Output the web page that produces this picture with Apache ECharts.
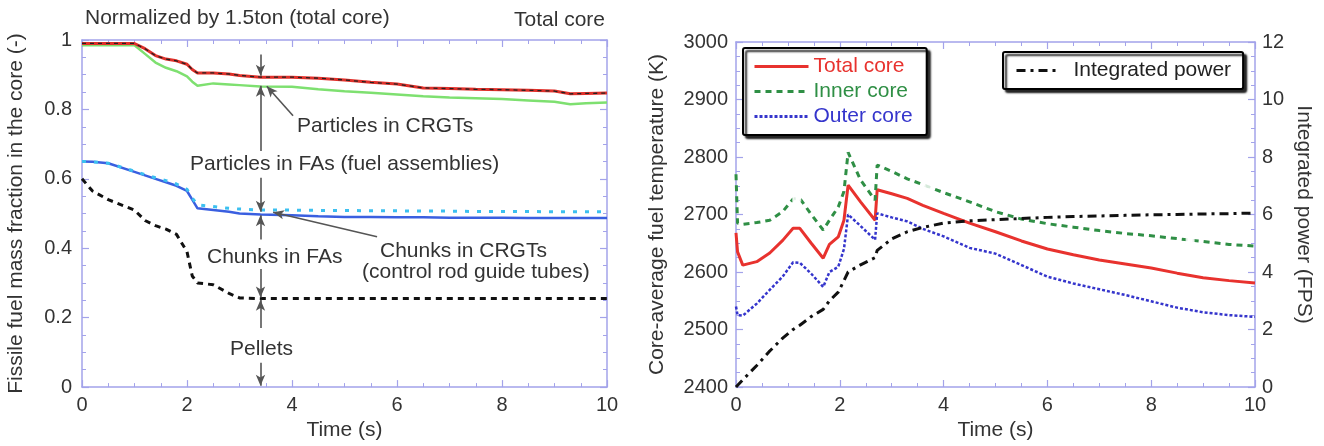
<!DOCTYPE html>
<html><head><meta charset="utf-8">
<script src="https://cdn.jsdelivr.net/npm/echarts@6/dist/echarts.min.js"></script>
<style>html,body{margin:0;padding:0;background:#fff}#c{width:1324px;height:446px}</style>
</head><body><div id="c"></div>
<script>
// ---------- Left panel data (fraction of fissile fuel mass) ----------
const timeL = [0,0.2,0.5,1.0,1.2,1.4,1.6,1.8,2.0,2.1,2.2,2.5,2.8,3.0,3.4,4.0,4.5,5.0,5.5,6.0,6.5,7.0,7.5,8.0,8.5,9.0,9.3,9.6,10];
const particlesCRGTs = [0.99,0.99,0.99,0.99,0.975,0.955,0.945,0.94,0.93,0.915,0.905,0.905,0.902,0.898,0.893,0.893,0.89,0.885,0.878,0.873,0.862,0.86,0.858,0.857,0.855,0.853,0.845,0.846,0.847];
const particlesFAs = [0.985,0.985,0.985,0.985,0.96,0.935,0.92,0.91,0.895,0.88,0.868,0.875,0.872,0.87,0.866,0.865,0.858,0.852,0.848,0.843,0.838,0.834,0.832,0.83,0.826,0.822,0.815,0.818,0.82];
const chunksFAs = [0.65,0.649,0.645,0.62,0.61,0.6,0.59,0.58,0.565,0.54,0.515,0.51,0.505,0.5,0.497,0.495,0.492,0.49,0.49,0.489,0.489,0.488,0.488,0.488,0.487,0.487,0.487,0.487,0.487];
const chunksCRGTs = [0.65,0.649,0.645,0.622,0.612,0.603,0.595,0.585,0.57,0.545,0.525,0.52,0.515,0.513,0.51,0.51,0.509,0.509,0.508,0.508,0.507,0.507,0.506,0.506,0.506,0.505,0.505,0.505,0.505];
const pellets = [0.6,0.565,0.54,0.51,0.48,0.465,0.455,0.44,0.39,0.32,0.3,0.295,0.27,0.257,0.255,0.255,0.255,0.255,0.255,0.255,0.255,0.255,0.255,0.255,0.255,0.255,0.255,0.255,0.255];
// annotation arrows (from -> to, in data coordinates of the left panel)
const arrowsL = [
  [[3.4,0.958],[3.4,0.897]],
  [[3.4,0.68],[3.4,0.868]],
  [[3.4,0.603],[3.4,0.505]],
  [[3.4,0.425],[3.4,0.495]],
  [[3.4,0.34],[3.4,0.258]],
  [[3.4,0.17],[3.4,0.252]],
  [[3.4,0.07],[3.4,0.004]],
  [[4.02,0.782],[3.52,0.867]],
  [[5.62,0.433],[3.64,0.504]]
];

// ---------- Right panel data ----------
const timeR = [0,0.03,0.13,0.4,0.65,0.9,1.1,1.23,1.45,1.68,1.8,1.97,2.08,2.16,2.4,2.68,2.72,3.0,3.3,3.6,4.0,4.5,5.0,5.5,6.0,6.5,7.0,7.5,8.0,8.5,9.0,9.5,10];
const totalCore = [2668,2635,2612,2618,2633,2655,2676,2676,2650,2624,2648,2661,2690,2751,2722,2690,2743,2736,2728,2716,2702,2685,2670,2654,2640,2630,2621,2614,2607,2598,2590,2585,2581];
const innerCore = [2770,2685,2683,2686,2690,2705,2727,2728,2700,2673,2690,2713,2740,2808,2760,2725,2786,2775,2762,2752,2738,2722,2705,2692,2684,2678,2672,2667,2663,2658,2653,2648,2645];
const outerCore = [2540,2525,2524,2545,2569,2592,2617,2616,2597,2574,2600,2609,2640,2700,2680,2656,2702,2695,2688,2675,2662,2642,2632,2612,2592,2580,2570,2560,2549,2538,2530,2525,2522];
const integratedPower = [0,0.06,0.25,0.75,1.25,1.7,2.0,2.15,2.45,2.7,3.0,3.3,3.7,4.0,4.25,4.5,4.75,5.15,5.4,5.55,5.7,5.78,5.82,5.86,5.9,5.93,5.95,5.97,5.99,6.0,6.02,6.03,6.05];
const innerMarkT = [1.17,3.7,8.75];
const innerMarkV = [2730,2750,2656];

const FONT = '"Liberation Sans", Arial, sans-serif';
const AX = '#a3a3ea';
const TXT = '#333';
const zip = (a,b) => a.map((v,i)=>[v,b[i]]);
const plain = v => String(v);

function axis(o){
  return Object.assign({
    type:'value',
    axisLine:{show:true,onZero:false,lineStyle:{color:AX,width:1.5}},
    axisTick:{show:true,inside:true,length:7,lineStyle:{color:AX,width:1.2}},
    minorTick:{show:true,splitNumber:4,length:4,lineStyle:{color:AX,width:1}},
    splitLine:{show:false},
    nameTextStyle:{color:TXT,fontSize:21,fontFamily:FONT}
  },o);
}
const lab = m => ({show:true,color:TXT,fontSize:20,fontFamily:FONT,margin:m,formatter:plain});
const noLab = {show:false};

const chart = echarts.init(document.getElementById('c'));
const option = {
  animation:false,
  backgroundColor:'#fff',
  grid:[
    {left:82,top:40,width:525,height:353},
    {left:736,top:42,width:519,height:345}
  ],
  xAxis:[
    axis({gridIndex:0,min:0,max:10,interval:2,name:'Time (s)',nameLocation:'middle',nameGap:29,axisLabel:lab(8)}),
    axis({gridIndex:0,min:0,max:10,interval:2,position:'top',axisLabel:noLab}),
    axis({gridIndex:1,min:0,max:10,interval:2,name:'Time (s)',nameLocation:'middle',nameGap:31,axisLabel:lab(8)}),
    axis({gridIndex:1,min:0,max:10,interval:2,position:'top',axisLabel:noLab})
  ],
  yAxis:[
    axis({gridIndex:0,min:0,max:1,interval:0.2,name:'Fissile fuel mass fraction in the core (-)',nameLocation:'middle',nameGap:55,axisLabel:lab(10)}),
    axis({gridIndex:0,min:0,max:1,interval:0.2,position:'right',axisLabel:noLab}),
    axis({gridIndex:1,min:2400,max:3000,interval:100,name:'Core-average fuel temperature (K)',nameLocation:'middle',nameGap:68,axisLabel:lab(8)}),
    axis({gridIndex:1,min:0,max:12,interval:2,position:'right',name:'Integrated power (FPS)',nameLocation:'middle',nameRotate:-90,nameGap:38,axisLabel:lab(7)})
  ],
  legend:[
    {
      left:743,top:48,orient:'vertical',selectedMode:false,
      padding:[8,14,8,10],itemWidth:54,itemHeight:14,itemGap:4,
      backgroundColor:'#fff',borderColor:'#000',borderWidth:2,borderRadius:2,
      shadowColor:'rgba(0,0,0,0.85)',shadowBlur:2,shadowOffsetX:3,shadowOffsetY:3,
      textStyle:{fontSize:21,fontFamily:FONT},
      itemStyle:{opacity:0},
      lineStyle:{width:3},
      data:[
        {name:'Total core',textStyle:{color:'#e8322e'}},
        {name:'Inner core',textStyle:{color:'#2f8f45'}},
        {name:'Outer core',textStyle:{color:'#3535cc'}}
      ]
    },
    {
      left:1003,top:52,orient:'vertical',selectedMode:false,
      padding:[8,12,8,12],itemWidth:42,itemHeight:14,
      backgroundColor:'#fff',borderColor:'#000',borderWidth:2,borderRadius:2,
      shadowColor:'rgba(0,0,0,0.85)',shadowBlur:2,shadowOffsetX:3,shadowOffsetY:3,
      textStyle:{fontSize:21,fontFamily:FONT,color:'#222',padding:[0,0,0,10]},
      itemStyle:{opacity:0},
      lineStyle:{width:3},
      data:[{name:'Integrated power'}]
    }
  ],
  series:[
    {name:'Particles in CRGTs',type:'line',xAxisIndex:0,yAxisIndex:0,showSymbol:false,data:zip(timeL,particlesCRGTs),
      lineStyle:{color:'#e0302a',width:3},z:3},
    {name:'Particles in CRGTs (dash)',type:'line',xAxisIndex:0,yAxisIndex:0,showSymbol:false,data:zip(timeL,particlesCRGTs),
      lineStyle:{color:'#222',width:1.3,type:[4,4]},z:4},
    {name:'Particles in FAs',type:'line',xAxisIndex:0,yAxisIndex:0,showSymbol:false,data:zip(timeL,particlesFAs),
      lineStyle:{color:'#7ee070',width:2.5},z:2},
    {name:'Chunks in FAs',type:'line',xAxisIndex:0,yAxisIndex:0,showSymbol:false,data:zip(timeL,chunksFAs),
      lineStyle:{color:'#3a5fe0',width:2.5},z:2},
    {name:'Chunks in CRGTs',type:'line',xAxisIndex:0,yAxisIndex:0,showSymbol:false,data:zip(timeL,chunksCRGTs),
      lineStyle:{color:'#3cc0f0',width:3,type:[4,8]},z:3},
    {name:'Pellets',type:'line',xAxisIndex:0,yAxisIndex:0,showSymbol:false,data:zip(timeL,pellets),
      lineStyle:{color:'#111',width:3,type:[6,5]},z:3,
      markLine:{silent:true,symbol:['none','arrow'],symbolSize:[7,11],precision:4,
        label:{show:false},lineStyle:{color:'#555',width:1.6,type:'solid'},
        data:arrowsL.map(a=>[{coord:a[0]},{coord:a[1]}])}},
    {name:'Total core',type:'line',xAxisIndex:2,yAxisIndex:2,showSymbol:false,symbol:'none',data:zip(timeR,totalCore),
      lineStyle:{color:'#e8322e',width:3},itemStyle:{color:'#e8322e'}},
    {name:'Inner core',type:'line',xAxisIndex:2,yAxisIndex:2,showSymbol:false,symbol:'emptyRect',symbolSize:6,data:zip(timeR,innerCore),
      lineStyle:{color:'#2f8f45',width:3,type:[6,5]},itemStyle:{color:'#2f8f45'}},
    {name:'Outer core',type:'line',xAxisIndex:2,yAxisIndex:2,showSymbol:false,symbol:'none',data:zip(timeR,outerCore),
      lineStyle:{color:'#3535cc',width:2.5,type:[3,2]},itemStyle:{color:'#3535cc'}},
    {name:'Integrated power',type:'line',xAxisIndex:2,yAxisIndex:3,showSymbol:false,symbol:'none',data:zip(timeR,integratedPower),
      lineStyle:{color:'#111',width:3,type:[9,5,3,5]},itemStyle:{color:'#111'}},
    {name:'Inner markers',type:'scatter',xAxisIndex:2,yAxisIndex:2,symbol:'emptyRect',symbolSize:7,data:zip(innerMarkT,innerMarkV),
      itemStyle:{color:'#fff',borderColor:'#2f8f45',borderWidth:1.5},z:5}
  ],
  graphic:[
    {type:'text',left:85,top:8,style:{text:'Normalized by 1.5ton (total core)',font:'21px '+FONT,fill:TXT}},
    {type:'text',right:719,top:10,style:{text:'Total core',font:'21px '+FONT,fill:TXT}},
    {type:'text',left:297,top:116,style:{text:'Particles in CRGTs',font:'21px '+FONT,fill:TXT}},
    {type:'text',left:190,top:154,style:{text:'Particles in FAs (fuel assemblies)',font:'21px '+FONT,fill:TXT}},
    {type:'text',left:207,top:247,style:{text:'Chunks in FAs',font:'21px '+FONT,fill:TXT}},
    {type:'text',left:380,top:241,style:{text:'Chunks in CRGTs',font:'21px '+FONT,fill:TXT}},
    {type:'text',left:362,top:262,style:{text:'(control rod guide tubes)',font:'21px '+FONT,fill:TXT}},
    {type:'text',left:230,top:339,style:{text:'Pellets',font:'21px '+FONT,fill:TXT}}
  ]
};
chart.setOption(option);
</script>
</body></html>
